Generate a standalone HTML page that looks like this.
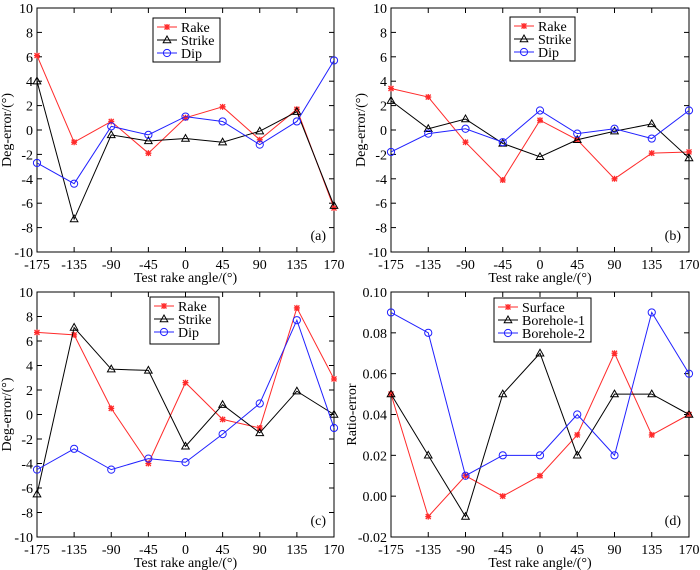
<!DOCTYPE html>
<html><head><meta charset="utf-8">
<style>
html,body{margin:0;padding:0;background:#fff;}
svg{display:block;font-family:"Liberation Serif",serif;}
</style></head>
<body>
<svg id="fig" width="700" height="570" viewBox="0 0 700 570"></svg>
<script>
const categories = ["-175","-135","-90","-45","0","45","90","135","170"];
const degTicks = [-10,-8,-6,-4,-2,0,2,4,6,8,10];
const ratioTicks = [-0.02,0,0.02,0.04,0.06,0.08,0.10];
const ratioTickLabels = ["-0.02","0.00","0.02","0.04","0.06","0.08","0.10"];

const aRake   = [6.1,-1,0.7,-1.9,1,1.9,-0.8,1.7,-6.4];
const aStrike = [4,-7.3,-0.4,-0.9,-0.7,-1,-0.1,1.5,-6.2];
const aDip    = [-2.7,-4.4,0.3,-0.4,1.1,0.7,-1.2,0.7,5.7];
const bRake   = [3.4,2.7,-1,-4.1,0.8,-0.8,-4,-1.9,-1.8];
const bStrike = [2.4,0.1,0.9,-1.1,-2.2,-0.8,-0.1,0.5,-2.3];
const bDip    = [-1.8,-0.3,0.1,-1,1.6,-0.3,0.1,-0.7,1.6];
const cRake   = [6.7,6.5,0.5,-4,2.6,-0.4,-1.1,8.7,2.9];
const cStrike = [-6.5,7.1,3.7,3.6,-2.6,0.8,-1.5,1.9,0];
const cDip    = [-4.5,-2.8,-4.5,-3.6,-3.9,-1.6,0.9,7.7,-1.1];
const dSurface = [0.05,-0.01,0.01,0,0.01,0.03,0.07,0.03,0.04];
const dBore1   = [0.05,0.02,-0.01,0.05,0.07,0.02,0.05,0.05,0.04];
const dBore2   = [0.09,0.08,0.01,0.02,0.02,0.04,0.02,0.09,0.06];

const NS="http://www.w3.org/2000/svg";
const svg=document.getElementById('fig');
function mk(tag,attrs,parent){const e=document.createElementNS(NS,tag);for(const k in attrs)e.setAttribute(k,attrs[k]);(parent||svg).appendChild(e);return e;}

const RED="#ff2a2a", BLK="#000", BLU="#2020ff";
const FS=14;

function marker(g,type,x,y,col){
  if(type==='star'){
    const m=mk('g',{},g);
    
    
    mk('path',{d:`M${x-2.5} ${y-2.5}L${x+2.5} ${y+2.5}M${x+2.5} ${y-2.5}L${x-2.5} ${y+2.5}M${x-3} ${y}H${x+3}M${x} ${y-3}V${y+3}`,stroke:col,'stroke-width':1.3},m);
  } else if(type==='tri'){
    const m=mk('path',{d:`M${x} ${y-4}L${x+3.8} ${y+2.7}L${x-3.8} ${y+2.7}Z`,fill:'none',stroke:col,'stroke-width':1},g);
    
    
  } else {
    const m=mk('circle',{cx:x,cy:y,r:3.6,fill:'none',stroke:col,'stroke-width':1},g);
    
    
  }
}

function panel(opt){
  const {L,R,T,B,ymin,ymax,ticks,tickLabels,series,legend,label,ylabel,name,yoff}=opt;
  const g=mk('g',{});
  
  
  const xs=i=>L+(R-L)*i/(categories.length-1);
  const ys=v=>B-(B-T)*(v-ymin)/(ymax-ymin);
  const frame=mk('rect',{x:L,y:T,width:R-L,height:B-T,fill:'none',stroke:'#000','stroke-width':1},g);
  
  
  ticks.forEach((t,i)=>{
    const y=ys(t);
    mk('line',{x1:L,x2:L+5,y1:y,y2:y,stroke:'#000'},g);
    mk('line',{x1:R,x2:R-5,y1:y,y2:y,stroke:'#000'},g);
    const tx=mk('text',{x:L-4,y:y+5,'text-anchor':'end','font-size':FS},g);
    tx.textContent=tickLabels?tickLabels[i]:String(t);
    
    
  });
  categories.forEach((c,i)=>{
    const x=xs(i);
    mk('line',{x1:x,x2:x,y1:B,y2:B-5,stroke:'#000'},g);
    mk('line',{x1:x,x2:x,y1:T,y2:T+5,stroke:'#000'},g);
    const tx=mk('text',{x:x,y:B+17,'text-anchor':'middle','font-size':FS},g);
    tx.textContent=c;
    
    
  });
  const xl=mk('text',{x:(L+R)/2,y:B+30,'text-anchor':'middle','font-size':FS},g);
  xl.textContent="Test rake angle/(°)";
  
  
  const yl=mk('text',{x:0,y:0,'text-anchor':'middle','font-size':FS,transform:`translate(${L-yoff},${(T+B)/2}) rotate(-90)`},g);
  yl.textContent=ylabel;
  
  
  const pl=mk('text',{x:R-8,y:B-12,'text-anchor':'end','font-size':FS},g);
  pl.textContent=label;
  
  
  series.forEach(s=>{
    const sg=mk('g',{},g);
    
    
    const pts=s.data.map((v,i)=>xs(i)+','+ys(v)).join(' ');
    mk('polyline',{points:pts,fill:'none',stroke:s.col,'stroke-width':1},sg);
    s.data.forEach((v,i)=>marker(sg,s.m,xs(i),ys(v),s.col));
  });
  const lg=mk('g',{},g);
  
  
  mk('rect',{x:legend.x,y:legend.y,width:legend.w,height:legend.h,fill:'#fff',stroke:'#000'},lg);
  series.forEach((s,i)=>{
    const y=legend.y+9+i*13;
    const e=mk('g',{},lg);
    
    
    mk('line',{x1:legend.x+4,x2:legend.x+24,y1:y,y2:y,stroke:s.col},e);
    marker(e,s.m,legend.x+14,y,s.col);
    const t=mk('text',{x:legend.x+28,y:y+5,'font-size':FS},e);
    t.textContent=s.name;
  });
}

const deg=(r,s,d)=>[{name:'Rake',data:r,col:RED,m:'star'},{name:'Strike',data:s,col:BLK,m:'tri'},{name:'Dip',data:d,col:BLU,m:'circ'}];
panel({name:'panel-a',yoff:26,L:37,R:334,T:8,B:252,ymin:-10,ymax:10,ticks:degTicks,series:deg(aRake,aStrike,aDip),legend:{x:153,y:18,w:67,h:44},label:'(a)',ylabel:'Deg-error/(°)'});
panel({name:'panel-b',yoff:26,L:391,R:689,T:8,B:252,ymin:-10,ymax:10,ticks:degTicks,series:deg(bRake,bStrike,bDip),legend:{x:510,y:17,w:65,h:44},label:'(b)',ylabel:'Deg-error/(°)'});
panel({name:'panel-c',yoff:26,L:37,R:334,T:292,B:537,ymin:-10,ymax:10,ticks:degTicks,series:deg(cRake,cStrike,cDip),legend:{x:150,y:297,w:69,h:47},label:'(c)',ylabel:'Deg-error/(°)'});
panel({name:'panel-d',yoff:35,L:391,R:689,T:292,B:537,ymin:-0.02,ymax:0.10,ticks:ratioTicks,tickLabels:ratioTickLabels,
  series:[{name:'Surface',data:dSurface,col:RED,m:'star'},{name:'Borehole-1',data:dBore1,col:BLK,m:'tri'},{name:'Borehole-2',data:dBore2,col:BLU,m:'circ'}],
  legend:{x:494,y:298,w:97,h:44},label:'(d)',ylabel:'Ratio-error'});
</script>
</body></html>
